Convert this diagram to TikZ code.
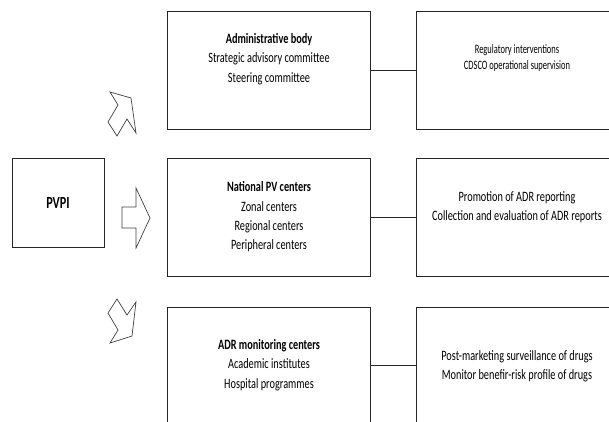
\documentclass[tikz,border=0pt]{standalone}
\usepackage{fontspec}
\setmainfont{Carlito}[FakeStretch=0.72]
\newfontfamily\rfont{Carlito}[FakeStretch=0.66]
\begin{document}
\begin{tikzpicture}[x=1pt,y=-1pt,
  box/.style={draw=black!85, line width=0.9pt, anchor=north west, inner sep=0pt},
  txt/.style={align=center, inner sep=0pt, font=\fontsize{14.3}{19.3}\selectfont},
  rtxt/.style={align=center, inner sep=0pt, font=\rfont\fontsize{12.8}{16}\selectfont},
  conn/.style={draw=black!85, line width=0.9pt},
  blk/.style={draw=black!75, line width=0.7pt, line join=miter}]
\useasboundingbox (0,0) rectangle (609,421);
% boxes
\node[box, minimum width=92pt, minimum height=89pt] (pvpi) at (12,158) {};
\node[box, minimum width=203pt, minimum height=118pt] (b1) at (167,11) {};
\node[box, minimum width=220pt, minimum height=118pt] (r1) at (416,11) {};
\node[box, minimum width=203pt, minimum height=118pt] (b2) at (167,158) {};
\node[box, minimum width=220pt, minimum height=118pt] (r2) at (416,158) {};
\node[box, minimum width=203pt, minimum height=116pt] (b3) at (167,307) {};
\node[box, minimum width=220pt, minimum height=116pt] (r3) at (416,307) {};
% texts
\node[txt, font=\bfseries\fontsize{17}{20}\selectfont] (tp) at (58,203) {PVPI};
\node[txt] (t1) at (269,59) {\textbf{Administrative body}\\Strategic advisory committee\\Steering committee};
\node[rtxt] (u1) at (517,58) {Regulatory interventions\\CDSCO operational supervision};
\node[txt] (t2) at (269,217) {\textbf{National PV centers}\\Zonal centers\\Regional centers\\Peripheral centers};
\node[txt] (u2) at (517,207) {Promotion of ADR reporting\\Collection and evaluation of ADR reports};
\node[txt] (t3) at (269,365) {\textbf{ADR monitoring centers}\\Academic institutes\\Hospital programmes};
\node[txt] (u3) at (517,366) {Post-marketing surveillance of drugs\\Monitor benefir-risk profile of drugs};
% connectors
\draw[conn] (b1.east) -- (r1.west);
\draw[conn] (b2.east) -- (r2.west);
\draw[conn] (b3.east) -- (r3.west);
% block arrows
\draw[blk] (131,98) -- (110,92) -- (118,105) -- (108,122) -- (117,136) -- (127,119) -- (136,133) -- cycle;
\draw[blk] (150,218) -- (136,188) -- (136,207) -- (122,207) -- (122,228) -- (136,228) -- (136,248) -- cycle;
\draw[blk] (132,336) -- (136,302) -- (127,315) -- (117,299) -- (108,313) -- (118,330) -- (110,343) -- cycle;
\end{tikzpicture}
\end{document}
